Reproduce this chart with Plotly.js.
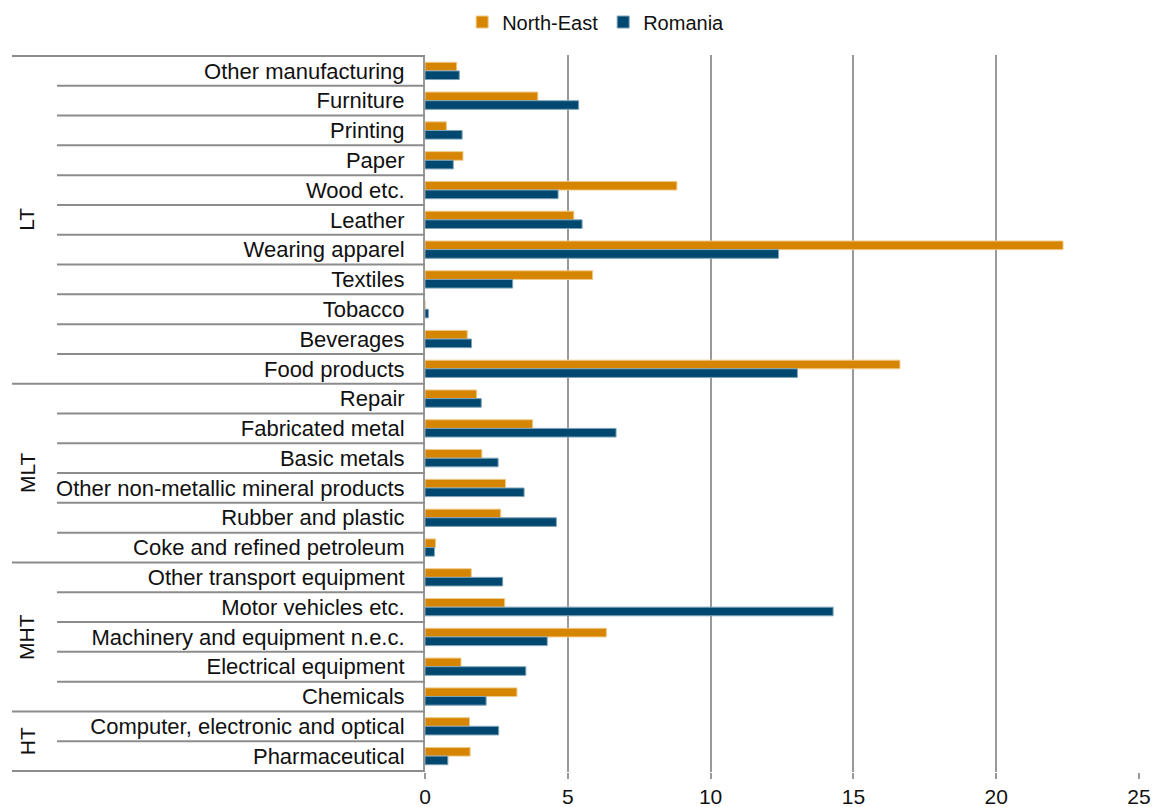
<!DOCTYPE html>
<html><head><meta charset="utf-8">
<script src="https://cdn.plot.ly/plotly-3.0.1.min.js"></script>
<style>body{margin:0;background:#fff}#chart{width:1159px;height:807px}</style>
</head><body><div id="chart"></div>
<script>
const categories = ["Other manufacturing","Furniture","Printing","Paper","Wood etc.","Leather","Wearing apparel","Textiles","Tobacco","Beverages","Food products",
  "Repair","Fabricated metal","Basic metals","Other non-metallic mineral products","Rubber and plastic","Coke and refined petroleum",
  "Other transport equipment","Motor vehicles etc.","Machinery and equipment n.e.c.","Electrical equipment","Chemicals",
  "Computer, electronic and optical","Pharmaceutical"];
const northEast = [1.11,3.95,0.75,1.33,8.82,5.21,22.34,5.87,0,1.48,16.63,
  1.81,3.77,1.99,2.82,2.65,0.37,
  1.62,2.79,6.35,1.26,3.22,
  1.56,1.58];
const romania = [1.2,5.38,1.3,0.99,4.66,5.5,12.38,3.07,0.12,1.63,13.04,
  1.97,6.69,2.56,3.47,4.6,0.33,
  2.72,14.29,4.28,3.53,2.14,
  2.58,0.8];
const groups = ["LT","MLT","MHT","HT"];
const groupSizes = [11,6,5,2];
const seriesNames = ["North-East","Romania"];
const xTicks = [0,5,10,15,20,25];

const orange = "#D68500", blue = "#00486F";
const traces = [
  {type:"bar", orientation:"h", name:seriesNames[0], y:categories, x:northEast,
   marker:{color:orange, line:{color:"#F0C98A", width:1}}},
  {type:"bar", orientation:"h", name:seriesNames[1], y:categories, x:romania,
   marker:{color:blue, line:{color:"#7FA3B8", width:1}}}
];

const FS = 22;
const shortX = (57-425)/714, longX = (12-425)/714, labelX = (27-425)/714;
const shapes = [];
const annotations = [];
let start = 0;
const boundaries = new Set([-0.5]);
groupSizes.forEach((n,i)=>{
  const end = start + n;
  boundaries.add(end - 0.5);
  annotations.push({xref:"paper", yref:"y", x:labelX, y:(start+end-1)/2, text:groups[i],
    xanchor:"center", yanchor:"middle",
    textangle:-90, showarrow:false, font:{family:"Liberation Sans, Arial", size:21, color:"#111"}});
  start = end;
});
for (let k=0;k<=categories.length;k++){
  const yb = k-0.5;
  const isLong = boundaries.has(yb);
  shapes.push({type:"line", xref:"paper", yref:"y", x0:isLong?longX:shortX, x1:0, y0:yb, y1:yb,
    line:{color:"#8c8c8c", width:2}, layer:"above"});
}

const layout = {
  width:1159, height:807,
  margin:{l:425, r:20, t:55, b:35, autoexpand:false},
  paper_bgcolor:"#fff", plot_bgcolor:"#fff",
  font:{family:"Liberation Sans, Arial, sans-serif", size:FS, color:"#111"},
  barmode:"group", bargap:0.42, bargroupgap:0,
  showlegend:true,
  legend:{orientation:"h", x:0.239, xanchor:"center", y:1.046, yanchor:"middle",
    font:{size:20}, itemwidth:12, tracegroupgap:0},
  xaxis:{range:[0,25], tickvals:xTicks, showgrid:true, gridcolor:"#999", gridwidth:2,
    zeroline:false, showline:false, ticks:"outside", ticklen:6, tickcolor:"#999", tickwidth:2,
    tickfont:{size:21}, fixedrange:true},
  yaxis:{type:"category", autorange:"reversed", showgrid:false, zeroline:false,
    showline:true, linecolor:"#999", linewidth:2, ticks:"", ticklabelstandoff:14,
    tickfont:{size:FS}, fixedrange:true},
  shapes:shapes, annotations:annotations
};
Plotly.newPlot("chart", traces, layout, {displayModeBar:false, staticPlot:true});
</script></body></html>
